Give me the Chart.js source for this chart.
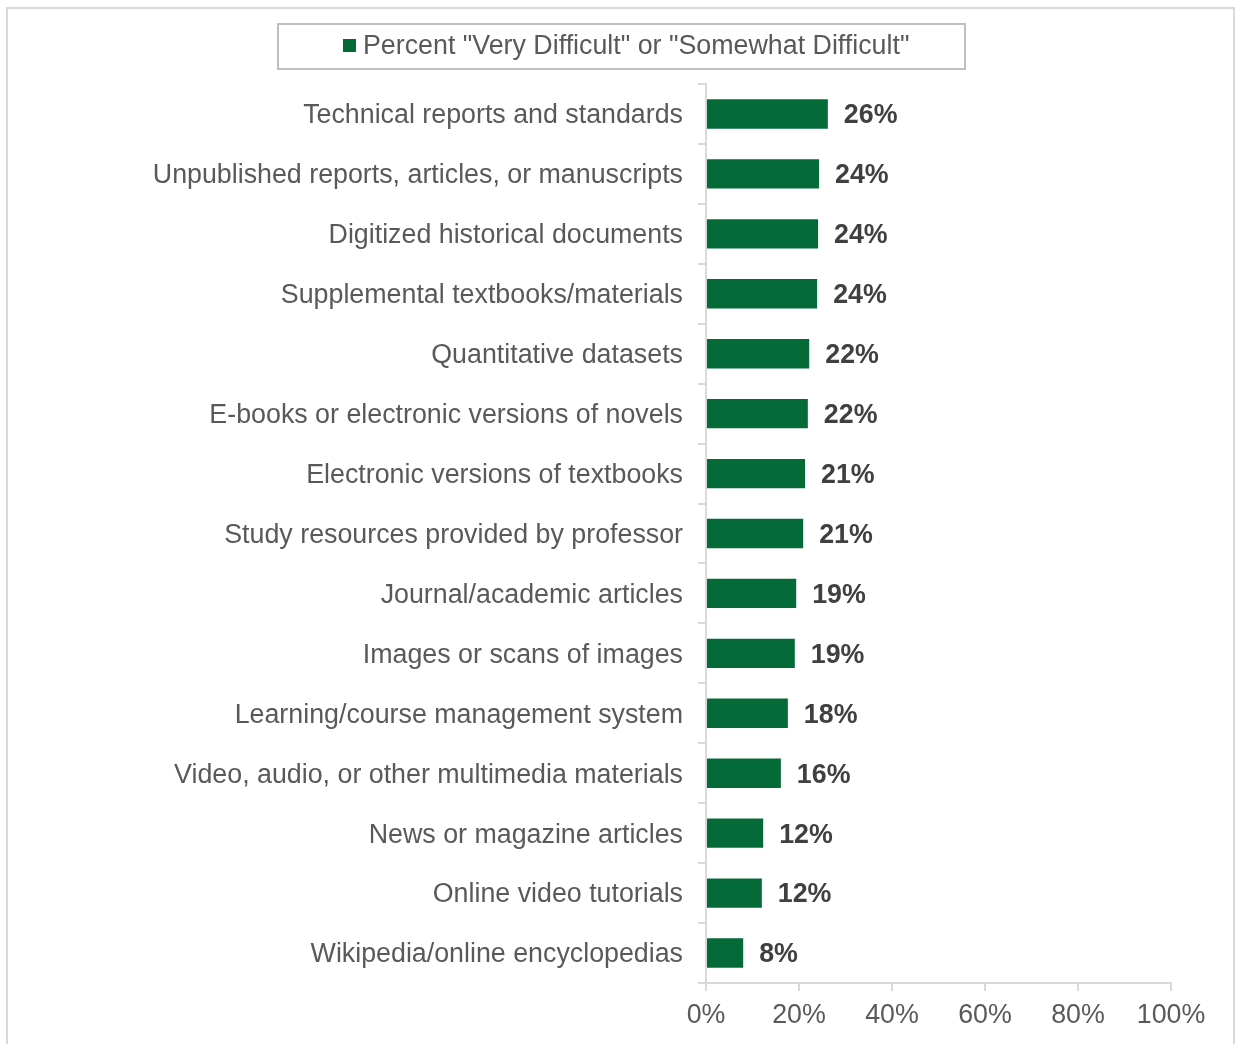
<!DOCTYPE html>
<html>
<head>
<meta charset="utf-8">
<script src="https://cdn.jsdelivr.net/npm/chart.js@4/dist/chart.umd.min.js"></script>
<style>
  html, body { margin: 0; padding: 0; background: #fff; overflow: hidden; }
  #frame {
    position: absolute; left: 6px; top: 7px; width: 1229px; height: 1100px;
    border: 2px solid #d9d9d9; box-sizing: border-box;
  }
  #wrap { position: absolute; left: 0; top: 0; width: 1236px; height: 1044px; }
</style>
</head>
<body>
<div id="frame"></div>
<div id="wrap"><canvas id="barChart" width="1236" height="1044"></canvas></div>
<script>
const categories = [
  "Technical reports and standards",
  "Unpublished reports, articles, or manuscripts",
  "Digitized historical documents",
  "Supplemental textbooks/materials",
  "Quantitative datasets",
  "E-books or electronic versions of novels",
  "Electronic versions of textbooks",
  "Study resources provided by professor",
  "Journal/academic articles",
  "Images or scans of images",
  "Learning/course management system",
  "Video, audio, or other multimedia materials",
  "News or magazine articles",
  "Online video tutorials",
  "Wikipedia/online encyclopedias"
];
const difficultValues = [26.2, 24.3, 24.1, 23.9, 22.2, 21.9, 21.3, 20.9, 19.4, 19.1, 17.6, 16.1, 12.3, 12.0, 8.0];
const valueLabels = ["26%", "24%", "24%", "24%", "22%", "22%", "21%", "21%", "19%", "19%", "18%", "16%", "12%", "12%", "8%"];
const xTicks = [0, 20, 40, 60, 80, 100];
const seriesName = 'Percent "Very Difficult" or "Somewhat Difficult"';

const barGreen = "#046a38";
const fontFamily = "'Liberation Sans', Arial, sans-serif";
const fontSize = 26.8;

// value labels at the end of each bar
const valueLabelPlugin = {
  id: "valueLabels",
  afterDatasetsDraw(chart) {
    const ctx = chart.ctx;
    const meta = chart.getDatasetMeta(0);
    ctx.save();
    ctx.font = "bold " + fontSize + "px " + fontFamily;
    ctx.fillStyle = "#404040";
    ctx.textAlign = "left";
    ctx.textBaseline = "middle";
    meta.data.forEach((bar, i) => {
      ctx.fillText(valueLabels[i], bar.x + 16, bar.y + 2);
    });
    ctx.restore();
  }
};

// boxed legend like the original
const boxedLegendPlugin = {
  id: "boxedLegend",
  afterDraw(chart) {
    const ctx = chart.ctx;
    ctx.save();
    ctx.strokeStyle = "#bfbfbf";
    ctx.lineWidth = 2;
    ctx.strokeRect(278, 24, 687, 45);
    ctx.fillStyle = barGreen;
    ctx.fillRect(343, 39, 13, 13);
    ctx.font = fontSize + "px " + fontFamily;
    ctx.fillStyle = "#595959";
    ctx.textAlign = "left";
    ctx.textBaseline = "middle";
    ctx.fillText(chart.data.datasets[0].label, 363, 47);
    ctx.restore();
  }
};

const ctx = document.getElementById("barChart").getContext("2d");
const barChart = new Chart(ctx, {
  type: "bar",
  data: {
    labels: categories,
    datasets: [
      {
        label: seriesName,
        data: difficultValues,
        backgroundColor: barGreen,
        borderWidth: 0,
        barPercentage: 1,
        categoryPercentage: 0.49
      }
    ]
  },
  options: {
    indexAxis: "y",
    responsive: false,
    animation: false,
    layout: {
      padding: { left: 0, right: 65, top: 84, bottom: 0 }
    },
    plugins: {
      legend: { display: false },
      tooltip: { enabled: false }
    },
    scales: {
      x: {
        min: 0,
        max: 100,
        afterBuildTicks(scale) {
          scale.ticks = xTicks.map(v => ({ value: v }));
        },
        afterFit(scale) { scale.height = 61; },
        border: { color: "#d9d9d9", width: 2 },
        grid: {
          drawOnChartArea: false,
          drawTicks: true,
          tickLength: 8,
          color: "#d9d9d9",
          lineWidth: 2
        },
        ticks: {
          padding: 9,
          color: "#595959",
          font: { family: fontFamily, size: fontSize },
          callback: v => v + "%"
        }
      },
      y: {
        afterFit(scale) { scale.width = 706; },
        border: { color: "#d9d9d9", width: 2 },
        grid: {
          offset: true,
          drawOnChartArea: false,
          drawTicks: true,
          tickLength: 8,
          color: "#d9d9d9",
          lineWidth: 2
        },
        ticks: {
          padding: 15,
          labelOffset: 2,
          color: "#595959",
          font: { family: fontFamily, size: fontSize }
        }
      }
    }
  },
  plugins: [valueLabelPlugin, boxedLegendPlugin]
});
</script>
</body>
</html>
